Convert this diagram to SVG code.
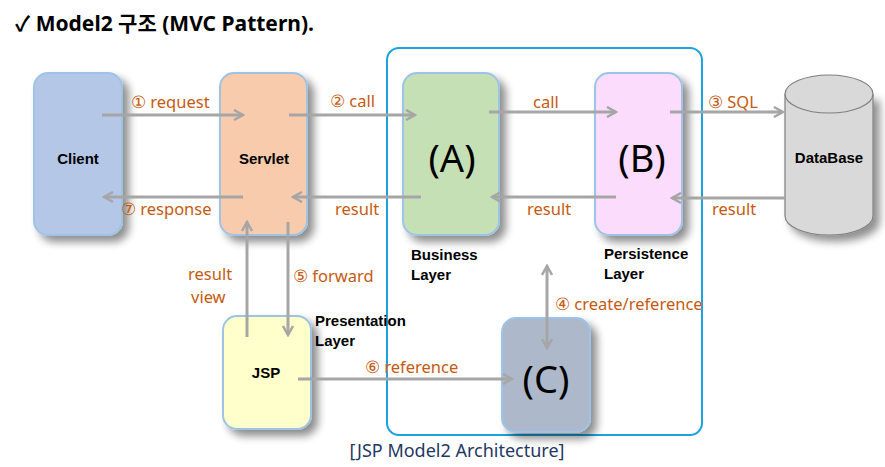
<svg xmlns="http://www.w3.org/2000/svg" width="885" height="467" viewBox="0 0 885 467">
<defs>
<filter id="sh" x="-20%" y="-20%" width="150%" height="150%">
<feGaussianBlur in="SourceAlpha" stdDeviation="4"/>
<feOffset dx="6" dy="6" result="b"/>
<feComponentTransfer><feFuncA type="linear" slope="0.45"/></feComponentTransfer>
<feMerge><feMergeNode/><feMergeNode in="SourceGraphic"/></feMerge>
</filter>
<marker id="ah" viewBox="0 0 12 12" refX="10" refY="6" markerWidth="12" markerHeight="12" markerUnits="userSpaceOnUse" orient="auto-start-reverse">
<path d="M1,1 L10,6 L1,11" fill="none" stroke="#a6a6a6" stroke-width="2.5"/>
</marker>
</defs>
<style>
.box{stroke:#9dc3e6;stroke-width:2;filter:url(#sh)}
.nl{font-family:"Liberation Sans",Arial,sans-serif;font-weight:bold;font-size:15px;fill:#000}
.big{font-family:"Noto Sans","Open Sans",sans-serif;font-size:38px;fill:#000}
.lbl{font-family:"Noto Sans","Liberation Sans",sans-serif;font-size:16.5px;fill:#c55a11}
.cn line{stroke:#a6a6a6;stroke-width:3;fill:none}
</style>
<rect width="885" height="467" fill="#fff"/>
<text x="15" y="31" font-family="'Noto Sans','Noto Sans CJK KR',sans-serif" font-weight="bold" font-size="21" fill="#000">✓ Model2 구조 (MVC Pattern).</text>
<rect x="387" y="48" width="315" height="387" rx="12" fill="none" stroke="#1aa3e0" stroke-width="2"/>
<g id="client"><rect class="box" x="34" y="73" width="88" height="162" rx="14" fill="#b4c7e7"/><text class="nl" x="78" y="164" text-anchor="middle">Client</text></g>
<g id="servlet"><rect class="box" x="220" y="73" width="87" height="162" rx="14" fill="#f8cbad"/><text class="nl" x="264" y="164" text-anchor="middle">Servlet</text></g>
<g id="business"><rect class="box" x="403" y="73" width="96" height="162" rx="14" fill="#c5e0b4"/><text class="big" x="452" y="172" text-anchor="middle">(A)</text><text class="nl" x="411" y="260">Business</text><text class="nl" x="411" y="280">Layer</text></g>
<g id="persistence"><rect class="box" x="595" y="73" width="87" height="162" rx="14" fill="#fcdcfc"/><text class="big" x="642" y="172" text-anchor="middle">(B)</text><text class="nl" x="604" y="259">Persistence</text><text class="nl" x="604" y="279">Layer</text></g>
<g id="database"><path d="M785,94 L785,216 A44,19 0 0 0 873,216 L873,94" fill="#d9d9d9" stroke="#7f7f7f" stroke-width="1.2" filter="url(#sh)"/><ellipse cx="829" cy="94" rx="44" ry="19" fill="#d9d9d9" stroke="#7f7f7f" stroke-width="1.2"/><text class="nl" x="829" y="163" text-anchor="middle">DataBase</text></g>
<g id="jsp"><rect class="box" x="223" y="316" width="88" height="113" rx="14" fill="#ffffcc"/><text class="nl" x="266" y="378" text-anchor="middle">JSP</text><text class="nl" x="315" y="326">Presentation</text><text class="nl" x="315" y="346">Layer</text></g>
<g id="model"><rect class="box" x="502" y="318" width="88" height="114" rx="14" fill="#adb9ca"/><text class="big" x="546" y="393" text-anchor="middle">(C)</text></g>
<g class="cn" id="connectors">
<line x1="102" y1="115" x2="243" y2="115" marker-end="url(#ah)"/>
<line x1="243" y1="197" x2="104" y2="197" marker-end="url(#ah)"/>
<line x1="289" y1="115" x2="415" y2="115" marker-end="url(#ah)"/>
<line x1="421" y1="197" x2="293" y2="197" marker-end="url(#ah)"/>
<line x1="489" y1="112" x2="616" y2="112" marker-end="url(#ah)"/>
<line x1="616" y1="197" x2="492" y2="197" marker-end="url(#ah)"/>
<line x1="670" y1="112" x2="783" y2="112" marker-end="url(#ah)"/>
<line x1="785" y1="198" x2="672" y2="198" marker-end="url(#ah)"/>
<line x1="247" y1="337" x2="247" y2="222" marker-end="url(#ah)"/>
<line x1="288" y1="222" x2="288" y2="335" marker-end="url(#ah)"/>
<line x1="298" y1="379" x2="512" y2="379" marker-end="url(#ah)"/>
<line x1="547" y1="266" x2="547" y2="348" marker-start="url(#ah)" marker-end="url(#ah)"/>
</g>
<g id="labels">
<text class="lbl" x="131" y="108">① request</text>
<text class="lbl" x="121" y="215">⑦ response</text>
<text class="lbl" x="330" y="107">② call</text>
<text class="lbl" x="335" y="215">result</text>
<text class="lbl" x="533" y="108">call</text>
<text class="lbl" x="527" y="215">result</text>
<text class="lbl" x="708" y="108">③ SQL</text>
<text class="lbl" x="712" y="215">result</text>
<text class="lbl" x="188" y="280">result</text>
<text class="lbl" x="191" y="303">view</text>
<text class="lbl" x="293" y="282">⑤ forward</text>
<text class="lbl" x="365" y="373">⑥ reference</text>
<text class="lbl" x="555" y="310">④ create/reference</text>
</g>
<text x="457" y="457" text-anchor="middle" font-family="'Noto Sans','Open Sans',sans-serif" font-size="18" fill="#1f3864">[JSP Model2 Architecture]</text>
</svg>
